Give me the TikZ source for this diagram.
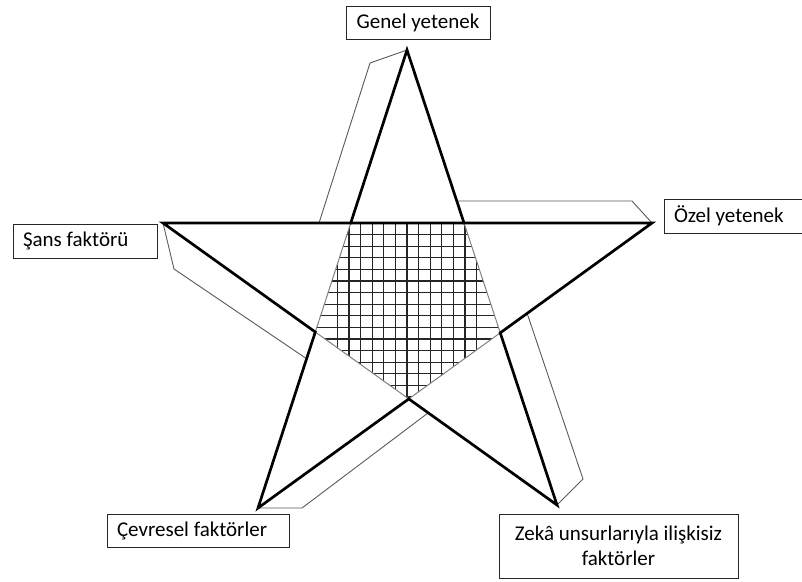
\documentclass[tikz,border=0pt]{standalone}
\usepackage{fontspec}
\setmainfont{Carlito}
\begin{document}
\begin{tikzpicture}[x=1pt,y=-1pt,
  starline/.style={line width=2.7pt, line join=miter, black},
  rim/.style={line width=0.9pt, black!65},
  innerline/.style={line width=1pt, black!50},
  gridln/.style={line width=1.2pt, black!85},
  lbl/.style={draw=black!85, line width=1pt, font=\fontsize{21}{25.5}\selectfont,
              inner xsep=10pt, inner ysep=0pt}]
\useasboundingbox (0,0) rectangle (802,581);
\clip (0,0) rectangle (802,581);

% outer points of the star
\coordinate (T)  at (407,50);
\coordinate (L)  at (163,223);
\coordinate (R)  at (652,223);
\coordinate (BL) at (258,508);
\coordinate (BR) at (557,505);

% inner pentagon corners
\coordinate (P1) at (intersection of T--BL and L--R);
\coordinate (P2) at (intersection of T--BR and L--R);
\coordinate (P3) at (intersection of T--BR and R--BL);
\coordinate (P4) at (intersection of L--BR and R--BL);
\coordinate (P5) at (intersection of L--BR and T--BL);

% grid hatching of the inner pentagon
\begin{scope}
  \clip (P1)--(P2)--(P3)--(P4)--(P5)--cycle;
  \foreach \i in {-6,...,6}
    \draw[gridln] ({407+11.6*\i},215) -- ({407+11.6*\i},410);
  \foreach \j in {0,...,16}
    \draw[gridln] (300,{223+11.6*\j}) -- (520,{223+11.6*\j});
\end{scope}
\draw[innerline] (P2) -- (P3) -- (P4) -- (P5) -- (P1);

% side faces of the arms
\coordinate (A1) at (370,63);
\coordinate (A2) at (319,223);
\draw[rim] (T) -- (A1) -- (A2);
\coordinate (B0) at (457,201);
\coordinate (B1) at (632,201);
\draw[rim] (B0) -- (B1) -- (R);
\coordinate (C1) at (174,269);
\coordinate (C2) at (307,359);
\draw[rim] (L) -- (C1) -- (C2);
\coordinate (D1) at (302,508);
\coordinate (D2) at (428,413);
\draw[rim] (BL) -- (D1) -- (D2);
\coordinate (E1) at (583,479);
\coordinate (E2) at (527,313);
\draw[rim] (BR) -- (E1) -- (E2);

% star outline
\draw[starline] (T) -- (P1) -- (L) -- (P5) -- (BL) -- (P4) -- (BR) -- (P3) -- (R) -- (P2) -- cycle;
\draw[starline] (P1) -- (P2);

% labels
\node[lbl, align=center, minimum width=144pt, minimum height=33pt] (genel) at (418,22.5) {Genel yetenek};
\node[lbl, text width=124pt, align=flush left, minimum height=34pt] (sans) at (85,241) {Şans faktörü};
\node[lbl, text width=128pt, align=flush left, minimum height=34pt] (ozel) at (738,216) {Özel yetenek};
\node[lbl, text width=162pt, align=flush left, minimum height=33pt] (cevre) at (198,530.5) {Çevresel faktörler};
\node[lbl, align=center, minimum width=239pt, minimum height=64pt] (zeka) at (618.5,546) {Zekâ unsurlarıyla ilişkisiz\\faktörler};
\end{tikzpicture}
\end{document}
